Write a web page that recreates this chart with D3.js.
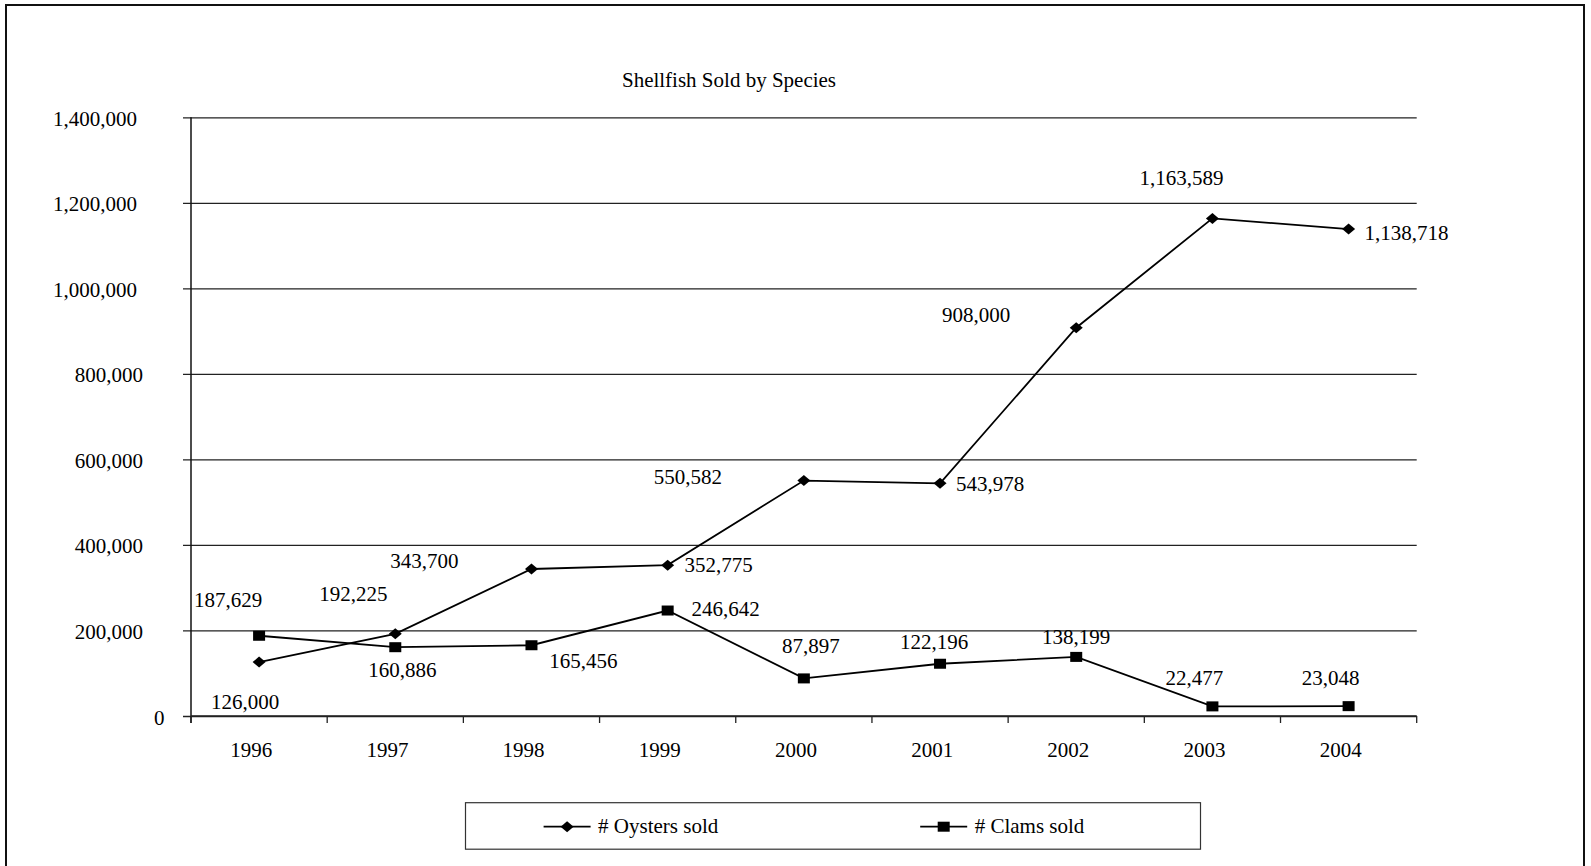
<!DOCTYPE html>
<html>
<head>
<meta charset="utf-8">
<script src="https://cdn.jsdelivr.net/npm/d3@7"></script>
<style>
  html, body { margin: 0; padding: 0; background: #fff; }
  svg text { font-family: "Liberation Serif", "Times New Roman", serif; font-size: 21px; fill: #000; }
</style>
</head>
<body>
<svg id="chart" width="1591" height="866"></svg>
<script>
// ---- data ----
const years = ["1996", "1997", "1998", "1999", "2000", "2001", "2002", "2003", "2004"];
const oysters = [126000, 192225, 343700, 352775, 550582, 543978, 908000, 1163589, 1138718];
const clams = [187629, 160886, 165456, 246642, 87897, 122196, 138199, 22477, 23048];
const yTicks = [0, 200000, 400000, 600000, 800000, 1000000, 1200000, 1400000];
const seriesNames = ["# Oysters sold", "# Clams sold"];
const titleText = "Shellfish Sold by Species";

// ---- label placement (offset of label centre / baseline from its point) ----
const oysterLabelOffset = [[-14, 47], [-42, -33], [-107, -1], [51, 7], [-116, 3], [50, 8], [-100, -6], [-31, -33], [58, 11]];
const clamLabelOffset = [[-31, -29], [7, 30], [52, 23], [58, 5], [7, -25], [-6, -15], [0, -13], [-18, -21], [-18, -21]];

// ---- layout ----
const plot = { left: 191, right: 1416.7, top: 117.3, bottom: 716 };
const fmt = d3.format(",");
const svg = d3.select("#chart");

// outer frame
svg.append("rect")
  .attr("x", 6).attr("y", 5).attr("width", 1578).attr("height", 880)
  .attr("fill", "none").attr("stroke", "#111").attr("stroke-width", 2);

const x = d3.scaleBand().domain(years).range([plot.left, plot.right]);
const y = d3.scaleLinear().domain([0, 1400000]).range([plot.bottom, plot.top]);
const cx = d => x(d) + x.bandwidth() / 2;

// title
svg.append("text")
  .attr("x", 729).attr("y", 87)
  .attr("text-anchor", "middle")
  .text(titleText);

// gridlines + y tick labels
const yAxis = d3.axisLeft(y)
  .tickValues(yTicks)
  .tickSize(plot.right - plot.left + 8)
  .tickFormat(fmt);
const gy = svg.append("g")
  .attr("transform", `translate(${plot.right},0)`)
  .call(yAxis);
gy.select(".domain").remove();
gy.selectAll(".tick line").attr("stroke", "#222").attr("stroke-width", 1.3);
gy.selectAll(".tick text")
  .attr("font-size", null).attr("font-family", null)
  .attr("fill", "#000")
  .attr("dy", null)
  .attr("text-anchor", "end")
  .attr("y", 8)
  .each(function () {
    const w = this.getComputedTextLength();
    d3.select(this).attr("x", 168.5 - plot.right - 0.375 * w);
  });
gy.attr("font-size", null).attr("font-family", null);

// y axis line
svg.append("line")
  .attr("x1", plot.left).attr("x2", plot.left)
  .attr("y1", plot.top).attr("y2", plot.bottom + 7)
  .attr("stroke", "#111").attr("stroke-width", 1.5);

// x axis line and category boundary ticks
svg.append("line")
  .attr("x1", plot.left).attr("x2", plot.right)
  .attr("y1", plot.bottom).attr("y2", plot.bottom)
  .attr("stroke", "#222").attr("stroke-width", 1.4);
const bounds = years.map(d => x(d)).concat([plot.right]);
svg.append("g").selectAll("line").data(bounds).join("line")
  .attr("x1", d => d).attr("x2", d => d)
  .attr("y1", plot.bottom).attr("y2", plot.bottom + 7)
  .attr("stroke", "#222").attr("stroke-width", 1.3);

// x tick labels
const xAxis = d3.axisBottom(x).tickSize(0).tickPadding(0);
const gx = svg.append("g").attr("transform", `translate(0,${plot.bottom})`).call(xAxis);
gx.select(".domain").remove();
gx.attr("font-size", null).attr("font-family", null);
gx.selectAll(".tick text")
  .attr("fill", "#000").attr("dy", null).attr("y", 41)
  .each(function () {
    const w = this.getComputedTextLength();
    d3.select(this).attr("x", -0.1875 * w);
  });

// series
const line = d3.line().x((d, i) => cx(years[i])).y(d => y(d));
const diamond = "M0,-5.5L6.5,0L0,5.5L-6.5,0Z";

function drawSeries(values, marker, offsets) {
  const g = svg.append("g");
  g.append("path").datum(values)
    .attr("d", line)
    .attr("fill", "none").attr("stroke", "#000").attr("stroke-width", 1.8);
  if (marker === "diamond") {
    g.selectAll("path.m").data(values).join("path").attr("class", "m")
      .attr("d", diamond)
      .attr("transform", (d, i) => `translate(${cx(years[i])},${y(d)})`)
      .attr("fill", "#000");
  } else {
    g.selectAll("rect.m").data(values).join("rect").attr("class", "m")
      .attr("x", (d, i) => cx(years[i]) - 6).attr("y", d => y(d) - 5)
      .attr("width", 12).attr("height", 10)
      .attr("fill", "#000");
  }
  g.selectAll("text").data(values).join("text")
    .attr("text-anchor", "middle")
    .attr("x", (d, i) => cx(years[i]) + offsets[i][0])
    .attr("y", (d, i) => y(d) + offsets[i][1])
    .text(d => fmt(d));
}
drawSeries(oysters, "diamond", oysterLabelOffset);
drawSeries(clams, "square", clamLabelOffset);

// legend
const lg = svg.append("g");
lg.append("rect")
  .attr("x", 465.5).attr("y", 802.7).attr("width", 735).attr("height", 46.5)
  .attr("fill", "#fff").attr("stroke", "#333").attr("stroke-width", 1.2);
const legendItems = [
  { name: seriesNames[0], marker: "diamond", x0: 543.6 },
  { name: seriesNames[1], marker: "square", x0: 920.2 }
];
const ly = 826.7;
legendItems.forEach(it => {
  lg.append("line")
    .attr("x1", it.x0).attr("x2", it.x0 + 47)
    .attr("y1", ly).attr("y2", ly)
    .attr("stroke", "#000").attr("stroke-width", 1.8);
  const mx = it.x0 + 23.5;
  if (it.marker === "diamond") {
    lg.append("path").attr("d", diamond)
      .attr("transform", `translate(${mx},${ly})`).attr("fill", "#000");
  } else {
    lg.append("rect").attr("x", mx - 6).attr("y", ly - 5)
      .attr("width", 12).attr("height", 10).attr("fill", "#000");
  }
  lg.append("text").attr("x", it.x0 + 54.5).attr("y", 833).text(it.name);
});
</script>
</body>
</html>
